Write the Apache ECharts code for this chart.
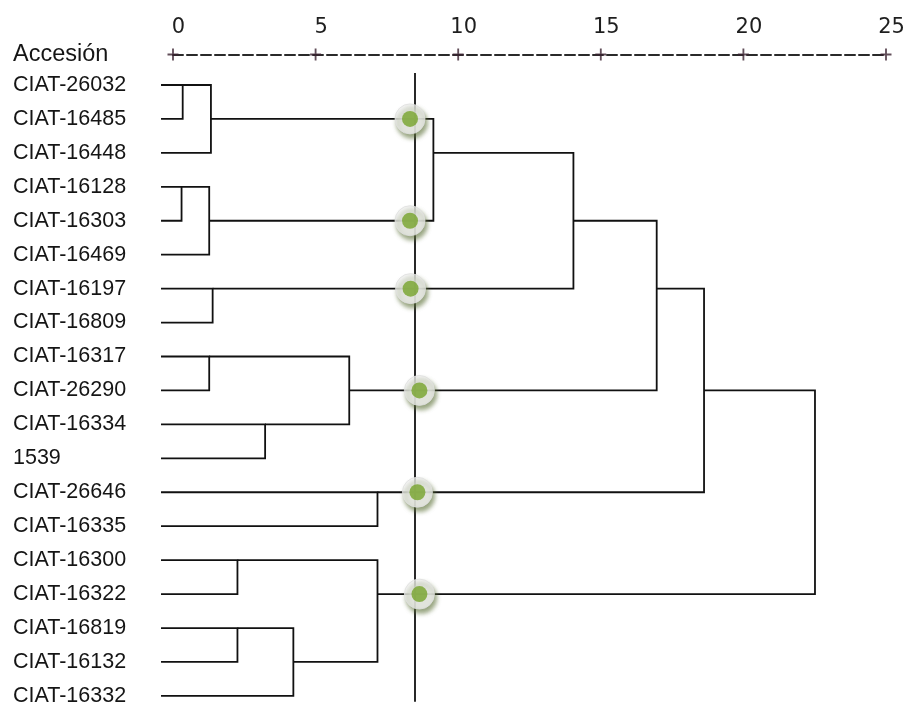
<!DOCTYPE html>
<html>
<head>
<meta charset="utf-8">
<script src="https://cdn.jsdelivr.net/npm/echarts@6/dist/echarts.min.js"></script>
<style>html,body{margin:0;padding:0;background:#fff}#c{width:912px;height:706px}</style>
</head>
<body>
<div id="c"></div>
<script>
// Leaf labels, top to bottom
const names = ['CIAT-26032','CIAT-16485','CIAT-16448','CIAT-16128','CIAT-16303','CIAT-16469','CIAT-16197','CIAT-16809','CIAT-16317','CIAT-26290','CIAT-16334','1539','CIAT-26646','CIAT-16335','CIAT-16300','CIAT-16322','CIAT-16819','CIAT-16132','CIAT-16332'];
const headerLabel = 'Accesión';
// Rescaled distance ruler ticks
const rulerTicks = [0, 5, 10, 15, 20, 25];
// Agglomeration schedule: leaves are 0..18, merge k creates cluster 19+k
const mergeLeft  = [3, 0, 8, 19, 20, 6, 14, 16, 10, 26, 21, 12, 25, 23, 32, 33, 34, 35];
const mergeRight = [4, 1, 9, 5, 2, 7, 15, 17, 11, 18, 27, 13, 28, 22, 24, 29, 30, 31];
const mergeDist  = [0.30, 0.34, 1.27, 1.27, 1.33, 1.39, 2.26, 2.26, 3.23, 4.22, 6.18, 7.17, 7.17, 9.13, 14.04, 16.96, 18.62, 22.51];
// Cut line and cluster markers on it
const cutDist = 8.49;
const cutSpan = [-0.35, 18.17];
const dotDist = [8.31, 8.31, 8.33, 8.64, 8.57, 8.64];
const dotRow  = [1, 4, 6, 9, 12, 15];

const LEAF_START = -0.42;
const Y_MIN = -0.9, Y_MAX = 18.2;

// build dendrogram polylines
const row = names.map((_, i) => i);
const end = names.map(() => LEAF_START);
const segs = [];
mergeDist.forEach((h, k) => {
  const a = mergeLeft[k], b = mergeRight[k];
  const rA = row[a], rB = row[b];
  segs.push([[end[a], rA], [h, rA], [h, rB], [end[b], rB]]);
  row[names.length + k] = Math.floor((rA + rB) / 2);
  end[names.length + k] = h;
});

const labelValues = [Y_MIN].concat(names.map((_, i) => i));
const labelFont = 'Liberation Sans';
const rulerFont = 'DejaVu Sans';

const chart = echarts.init(document.getElementById('c'), null, {renderer: 'canvas'});
chart.setOption({
  backgroundColor: '#ffffff',
  animation: false,
  grid: {left: 173, right: 26, top: 54.45, bottom: 3.3, containLabel: false, outerBoundsMode: 'none'},
  xAxis: {
    type: 'value', position: 'top', min: 0, max: 25, interval: 5,
    axisLine: {show: true, onZero: false, lineStyle: {color: '#2a2a2a', width: 2, type: [10, 4]}},
    axisTick: {show: false},
    splitLine: {show: false},
    axisLabel: {fontFamily: rulerFont, fontSize: 21, color: '#1e1e1e', margin: 16, padding: [0, 0, 0, 11]}
  },
  yAxis: {
    type: 'value', inverse: true, min: Y_MIN, max: Y_MAX,
    axisLine: {show: false}, axisTick: {show: false}, splitLine: {show: false},
    axisLabel: {
      customValues: labelValues,
      formatter: v => (Math.abs(v - Y_MIN) < 1e-6 ? '{h|' + headerLabel + '}' : names[Math.round(v)]),
      align: 'left', margin: 160, fontFamily: labelFont, fontSize: 21.5, color: '#151515',
      rich: {h: {fontFamily: labelFont, fontSize: 23.5, color: '#151515'}}
    }
  },
  series: [
    {
      type: 'lines', coordinateSystem: 'cartesian2d', polyline: true, clip: false, silent: true,
      lineStyle: {color: '#111', width: 1.8, opacity: 1},
      data: segs.map(c => ({coords: c})), z: 2
    },
    {
      type: 'lines', coordinateSystem: 'cartesian2d', clip: false, silent: true,
      lineStyle: {color: '#111', width: 1.8, opacity: 1},
      data: [{coords: [[cutDist, cutSpan[0]], [cutDist, cutSpan[1]]]}], z: 2
    },
    {
      type: 'scatter', clip: false, silent: true, symbol: 'path://M5,0H7V12H5Z M0,5H12V7H0Z', symbolSize: [11, 12],
      itemStyle: {color: '#3a2230'},
      data: rulerTicks.map(t => [t, Y_MIN]), z: 3
    },
    {
      type: 'scatter', clip: false, silent: true, symbolSize: 30,
      itemStyle: {color: '#f3f3f3', borderColor: '#dedede', borderWidth: 1,
        shadowBlur: 4, shadowColor: 'rgba(95,115,60,0.8)', shadowOffsetX: 2, shadowOffsetY: 4},
      data: dotDist.map((d, i) => [d, dotRow[i]]), z: 4
    },
    {
      type: 'scatter', clip: false, silent: true, symbolSize: 16,
      itemStyle: {color: '#76a22a'},
      data: dotDist.map((d, i) => [d, dotRow[i]]), z: 5
    }
  ]
});
</script>
</body>
</html>
